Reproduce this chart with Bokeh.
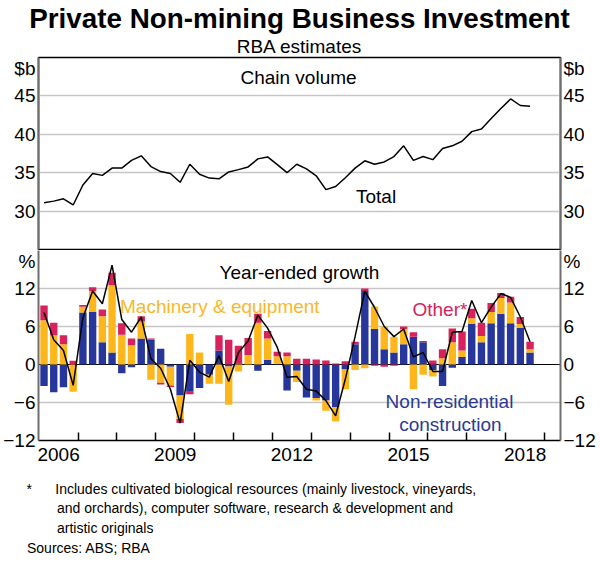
import numpy as np
import pandas as pd
from bokeh.plotting import figure
from bokeh.models import (ColumnDataSource, Range1d, LinearAxis, FixedTicker,
                          Label, Span, Grid, Title)
from bokeh.layouts import column
from bokeh.embed import file_html
from bokeh.resources import INLINE

# ---------------- data ----------------
quarters = pd.period_range("2006Q1", "2018Q3", freq="Q")

chain_volume = [31.1, 31.3, 31.6, 30.8, 33.4, 34.9, 34.65, 35.6, 35.6, 36.6,
                37.2, 35.8, 35.15, 34.9, 33.75, 36.1, 34.8, 34.3, 34.2, 35.1,
                35.4, 35.75, 36.8, 37.05, 36.05, 35.0, 36.1, 35.5, 34.6, 32.8,
                33.2, 34.35, 35.6, 36.55, 36.1, 36.4, 37.1, 38.5, 36.6, 37.1,
                36.7, 38.15, 38.5, 39.1, 40.35, 40.7, 42.05, 43.35, 44.6, 43.75,
                43.65]

construction = [-3.4, -4.4, -3.6, 0.0, 8.2, 8.3, 3.5, 1.9, -1.4, -0.45,
                4.1, 3.9, 2.5, -0.35, -4.9, -4.2, -3.7, -1.6, 2.2, -0.3,
                0.2, 0.0, -1.0, 0.75, 0.1, -4.1, -1.0, -5.2, -5.3, -5.7,
                -6.7, -0.8, 3.2, 11.6, 5.6, 2.4, 1.9, 3.2, 4.4, 3.5,
                -0.85, -3.4, -0.5, 1.2, 6.4, 3.5, 6.5, 8.0, 6.5, 5.75,
                1.9]

machinery = [7.0, 4.6, 3.2, -4.3, 0.9, 3.3, 4.1, 10.6, 4.7, 3.05,
             2.7, -2.4, -2.9, -2.95, -3.7, 4.8, 1.9, -1.45, -3.05, -6.05,
             -1.1, 1.5, 6.6, 3.35, 1.2, 1.3, -1.75, 0.0, -0.4, -1.6,
             -2.3, -3.1, -0.85, -0.6, 3.55, 3.6, 2.5, 2.4, -3.9, -1.6,
             -1.05, 1.0, 3.5, 1.0, 0.9, 1.0, 1.8, 2.5, 3.3, 0.65,
             0.5]

other = [2.3, 2.0, 1.4, 0.6, 0.3, 0.6, 1.1, 2.0, 1.8, 1.05,
         0.8, 0.2, -0.25, -0.25, -0.65, -0.5, 0.0, 0.0, 2.4, 3.9,
         2.75, 2.7, 1.4, 1.2, 0.7, 0.6, 0.9, 0.9, 0.8, 0.65,
         0.15, 0.5, 0.4, 0.4, -0.2, -0.35, -0.2, 0.4, 0.7, 0.2,
         0.65, 1.4, 2.2, 3.0, 1.5, 2.1, 1.4, 0.8, 0.9, 1.1,
         1.2]

total_growth = [8.2, 3.9, 2.2, -3.3, 7.4, 11.6, 9.6, 15.7, 7.1, 5.1,
                7.5, 0.9, -0.6, -3.9, -9.25, 0.66, -1.2, -2.0, 1.4, -2.7,
                1.9, 3.7, 7.8, 5.75, 2.7, -2.0, -1.9, -3.9, -4.2, -5.7,
                -8.1, -2.3, 4.4, 11.6, 9.0, 6.0, 4.4, 5.6, 1.2, 1.9,
                -1.1, -1.1, 5.1, 5.2, 10.1, 6.6, 9.05, 11.2, 10.6, 7.5,
                3.6]

level_ticks = [30, 35, 40, 45]
growth_ticks = [-12, -6, 0, 6, 12]
growth_grid = [-6, 6, 12]
year_labels = [2006, 2009, 2012, 2015, 2018]
year_bounds = list(range(2007, 2020))

# ---------------- styles / geometry ----------------
FONT = "Liberation Sans"
BLUE = "#27369A"
ORANGE = "#FDB71D"
PINK = "#D8225C"
GRID = "#C6C6C6"
AXIS_GREY = "#6E6E6E"

FW = 522
X0 = 2005.983
X1 = 2019.408

# reference-picture positions -> data coordinates (for text placement)
def xs(px):
    return X0 + (px - 32) / 39.925

def y1(py):
    return 50 - (py - 53) * 25 / 198

def y2(py):
    return 18 - (py - 252) * 30 / 196

x = np.array([q.year + (q.quarter - 0.5) / 4 for q in quarters])


def side_axes(ticks, extra_pos, extra_text):
    axes = []
    for loc in ("left", "right"):
        ax = LinearAxis(
            ticker=FixedTicker(ticks=list(ticks) + [extra_pos]),
            major_label_overrides={extra_pos: extra_text},
            axis_line_color=AXIS_GREY, axis_line_width=2,
            major_tick_line_color=None, minor_tick_line_color=None,
            major_tick_in=0, major_tick_out=0, minor_tick_in=0, minor_tick_out=0,
            major_label_text_font=FONT, major_label_text_font_size="19px",
            major_label_text_color="black",
            major_label_standoff=3,
        )
        axes.append((ax, loc))
    return axes


def lbl(p, xv, yv, text, color="black", align="left", size="19px"):
    p.add_layout(Label(x=xv, y=yv, text=text, text_color=color, text_align=align,
                       text_baseline="alphabetic", text_font=FONT,
                       text_font_size=size))


def title(text, size, style="normal", align="center", offset=0, standoff=0):
    return Title(text=text, align=align, offset=offset, standoff=standoff,
                 text_font=FONT, text_font_size=size, text_font_style=style,
                 text_color="black")

# ---------------- top panel (with chart titles above) ----------------
p1 = figure(frame_width=FW, frame_height=192, x_range=Range1d(X0, X1),
            y_range=Range1d(25, 50),
            title=None, output_backend="svg", toolbar_location=None,
            x_axis_location=None, y_axis_location=None,
            min_border_left=31, min_border_right=31, min_border_top=0,
            min_border_bottom=1, outline_line_color="black", outline_line_width=1.5)
p1.xgrid.visible = False
p1.ygrid.visible = False
p1.add_layout(title("RBA estimates", "19px", standoff=1), "above")
p1.add_layout(title("Private Non-mining Business Investment", "27.8px", "bold"), "above")
p1.add_layout(Grid(dimension=1, ticker=FixedTicker(ticks=level_ticks),
                   grid_line_color=GRID, grid_line_width=1.5))
for ax, loc in side_axes(level_ticks, round(y1(64), 2), "$b"):
    p1.add_layout(ax, loc)
p1.line(x, chain_volume, line_color="black", line_width=1.5)
lbl(p1, xs(299), y1(73.3), "Chain volume", align="center")
lbl(p1, xs(358), y1(196), "Total")

# ---------------- bottom panel (with footnotes below) ----------------
p2 = figure(frame_width=FW, frame_height=190, x_range=p1.x_range,
            y_range=Range1d(-12, 18),
            title=None, output_backend="svg", toolbar_location=None,
            x_axis_location=None, y_axis_location=None,
            min_border_left=31, min_border_right=31, min_border_top=0,
            min_border_bottom=0, outline_line_color=None)
p2.xgrid.visible = False
p2.ygrid.visible = False
p2.add_layout(Grid(dimension=1, ticker=FixedTicker(ticks=growth_grid),
                   grid_line_color=GRID, grid_line_width=1.5))
p2.add_layout(Span(location=0, dimension="width", line_color="black",
                   line_width=1, level="underlay"))
for ax, loc in side_axes(growth_ticks, round(y2(261), 2), "%"):
    p2.add_layout(ax, loc)

xaxis = LinearAxis(
    ticker=FixedTicker(ticks=[yr + 0.5 for yr in year_labels], minor_ticks=year_bounds),
    major_label_overrides={yr + 0.5: str(yr) for yr in year_labels},
    axis_line_color="black", axis_line_width=1.5,
    major_tick_line_color=None, major_tick_in=0, major_tick_out=0,
    minor_tick_line_color="black", minor_tick_line_width=1.5,
    minor_tick_in=8, minor_tick_out=0,
    major_label_text_font=FONT, major_label_text_font_size="19px",
    major_label_text_color="black", major_label_standoff=7,
)
p2.add_layout(xaxis, "below")

NB = "\u00a0"
p2.add_layout(title(" ", "1px", standoff=12), "below")   # spacer
p2.add_layout(title("*" + NB * 6 + "Includes cultivated biological resources "
                    "(mainly livestock, vineyards,", "14px", align="left",
                    offset=-12), "below")
p2.add_layout(title("and orchards), computer software, research & development and",
                    "14px", align="left", offset=18.5, standoff=3), "below")
p2.add_layout(title("artistic originals", "14px", align="left", offset=18.5), "below")
p2.add_layout(title("Sources: ABS; RBA", "14px", align="left", offset=-11.5,
                    standoff=4), "below")

pos_base = np.zeros(len(x))
neg_base = np.zeros(len(x))
for comp, color in ((construction, BLUE), (machinery, ORANGE), (other, PINK)):
    c = np.array(comp, dtype=float)
    bottom = np.where(c >= 0, pos_base, neg_base + c)
    top = np.where(c >= 0, pos_base + c, neg_base)
    pos_base = pos_base + np.clip(c, 0, None)
    neg_base = neg_base + np.clip(c, None, 0)
    src = ColumnDataSource(dict(x=x, bottom=bottom, top=top))
    p2.vbar(x="x", bottom="bottom", top="top", width=0.19, source=src,
            fill_color=color, line_color=None)

p2.line(x, total_growth, line_color="black", line_width=1.5)

lbl(p2, xs(300), y2(275), "Year-ended growth", align="center")
lbl(p2, xs(115.7), y2(310), "Machinery & equipment", color="#FBB72A")
lbl(p2, xs(416), y2(313.3), "Other*", color=PINK)
lbl(p2, xs(454), y2(407.3), "Non-residential", color="#2B3A96", align="center")
lbl(p2, xs(455), y2(431.7), "construction", color="#2B3A96", align="center")

layout = column(p1, p2, spacing=0)

open("out.html", "w").write(file_html(layout, INLINE))
